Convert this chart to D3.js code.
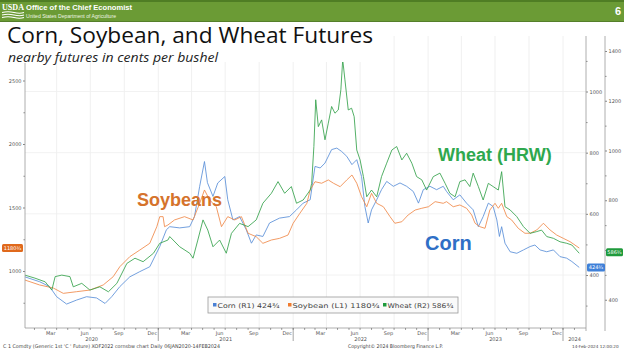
<!DOCTYPE html>
<html><head><meta charset="utf-8">
<script src="https://cdn.jsdelivr.net/npm/d3@7"></script>
<style>body{margin:0;background:#fff;overflow:hidden}svg{display:block}</style>
</head><body>
<svg id="c" width="624" height="352"></svg>
<script>
// ---------------- DATA (cents per bushel, nearby futures) ----------------
const corn = [["2020-01-06",394],["2020-02-15",378],["2020-03-13",362],["2020-04-01",329],["2020-04-28",305],["2020-05-25",318],["2020-06-21",329],["2020-07-18",325],["2020-08-10",307],["2020-08-28",329],["2020-09-19",362],["2020-10-16",394],["2020-11-12",411],["2020-12-09",427],["2021-01-05",493],["2021-01-23",548],["2021-02-01",558],["2021-02-28",554],["2021-03-27",558],["2021-04-09",591],["2021-04-23",690],["2021-05-06",771],["2021-05-14",702],["2021-05-29",657],["2021-06-11",701],["2021-06-30",722],["2021-07-08",646],["2021-07-22",580],["2021-08-09",591],["2021-08-27",548],["2021-09-10",504],["2021-09-23",531],["2021-10-11",526],["2021-10-29",570],["2021-11-25",586],["2021-12-22",591],["2022-01-10",613],["2022-01-28",635],["2022-02-16",646],["2022-03-01",755],["2022-03-15",750],["2022-03-28",766],["2022-04-15",810],["2022-04-29",815],["2022-05-12",804],["2022-05-26",788],["2022-06-09",761],["2022-06-22",777],["2022-07-05",722],["2022-07-14",624],["2022-07-23",570],["2022-08-01",613],["2022-08-15",646],["2022-08-28",679],["2022-09-11",706],["2022-09-29",690],["2022-10-17",701],["2022-11-04",690],["2022-11-22",673],["2022-12-06",635],["2022-12-19",679],["2023-01-06",690],["2023-01-24",679],["2023-02-11",690],["2023-02-20",673],["2023-03-10",646],["2023-03-28",662],["2023-04-15",635],["2023-05-03",613],["2023-05-17",558],["2023-05-30",591],["2023-06-13",635],["2023-06-26",624],["2023-07-06",580],["2023-07-13",526],["2023-07-19",558],["2023-07-28",504],["2023-08-11",476],["2023-08-29",471],["2023-09-16",482],["2023-10-04",493],["2023-10-17",498],["2023-10-31",482],["2023-11-18",476],["2023-12-06",482],["2023-12-24",460],["2024-01-11",455],["2024-01-25",444],["2024-02-14",424.75]];

const soybean = [["2020-01-06",929],["2020-02-15",890],["2020-03-23",866],["2020-04-19",824],["2020-05-25",837],["2020-06-30",850],["2020-08-05",890],["2020-09-01",955],["2020-09-19",1034],["2020-10-16",1113],["2020-11-12",1165],["2020-12-09",1218],["2020-12-28",1349],["2021-01-05",1428],["2021-01-14",1428],["2021-01-18",1349],["2021-01-27",1362],["2021-02-14",1402],["2021-03-13",1428],["2021-04-05",1402],["2021-04-23",1533],["2021-05-06",1638],["2021-05-20",1559],["2021-06-07",1506],["2021-06-21",1349],["2021-07-08",1428],["2021-07-27",1402],["2021-08-14",1428],["2021-09-01",1297],["2021-09-23",1270],["2021-10-11",1218],["2021-11-03",1244],["2021-11-25",1257],["2021-12-18",1283],["2022-01-01",1376],["2022-01-19",1454],["2022-02-07",1533],["2022-02-16",1638],["2022-03-01",1703],["2022-03-19",1691],["2022-04-06",1717],["2022-04-20",1691],["2022-05-08",1664],["2022-05-26",1717],["2022-06-09",1756],["2022-06-22",1691],["2022-07-05",1585],["2022-07-19",1506],["2022-08-01",1612],["2022-08-15",1533],["2022-09-02",1506],["2022-09-20",1428],["2022-10-03",1376],["2022-10-22",1388],["2022-11-08",1441],["2022-11-27",1480],["2022-12-15",1494],["2023-01-02",1506],["2023-01-20",1546],["2023-02-11",1533],["2023-02-20",1546],["2023-03-10",1506],["2023-03-28",1520],["2023-04-15",1494],["2023-04-29",1441],["2023-05-08",1376],["2023-05-21",1349],["2023-06-04",1336],["2023-06-17",1480],["2023-07-01",1533],["2023-07-10",1494],["2023-07-19",1533],["2023-08-02",1428],["2023-08-15",1402],["2023-09-02",1336],["2023-09-20",1297],["2023-10-04",1297],["2023-10-22",1323],["2023-11-09",1376],["2023-11-27",1323],["2023-12-15",1283],["2024-01-02",1257],["2024-01-20",1231],["2024-02-14",1180.75]];

const wheat = [["2020-01-06",499],["2020-02-02",487],["2020-03-01",472],["2020-03-19",439],["2020-03-28",493],["2020-04-15",499],["2020-05-07",493],["2020-05-16",452],["2020-06-08",466],["2020-06-30",439],["2020-07-27",452],["2020-08-19",432],["2020-09-11",466],["2020-10-08",546],["2020-10-30",567],["2020-11-21",553],["2020-12-19",587],["2021-01-05",627],["2021-01-27",640],["2021-02-01",654],["2021-02-28",613],["2021-03-27",587],["2021-04-05",567],["2021-04-18",640],["2021-05-02",721],["2021-05-15",680],["2021-05-29",613],["2021-06-16",640],["2021-07-04",587],["2021-07-18",667],["2021-08-09",707],["2021-09-01",694],["2021-09-23",721],["2021-10-11",788],["2021-11-03",828],["2021-11-21",875],["2021-12-09",828],["2021-12-27",855],["2022-01-10",788],["2022-01-28",801],["2022-02-16",841],["2022-02-20",868],["2022-02-26",1016],["2022-03-03",1204],["2022-03-10",1096],["2022-03-19",1123],["2022-03-28",1043],["2022-04-06",1110],["2022-04-15",1177],["2022-04-24",1150],["2022-05-03",1163],["2022-05-10",1244],["2022-05-15",1365],["2022-05-21",1284],["2022-05-30",1163],["2022-06-08",1170],["2022-06-15",1136],["2022-06-22",1002],["2022-07-01",962],["2022-07-10",895],["2022-07-19",814],["2022-08-01",841],["2022-08-15",814],["2022-08-28",895],["2022-09-11",949],["2022-09-25",1002],["2022-10-08",1016],["2022-10-22",962],["2022-11-04",989],["2022-11-18",949],["2022-12-01",895],["2022-12-15",882],["2022-12-28",841],["2023-01-15",895],["2023-02-02",909],["2023-02-16",868],["2023-03-01",828],["2023-03-15",814],["2023-03-28",875],["2023-04-11",882],["2023-04-24",855],["2023-05-03",909],["2023-05-17",855],["2023-05-30",801],["2023-06-13",868],["2023-06-26",855],["2023-07-10",841],["2023-07-19",915],["2023-07-28",774],["2023-08-11",761],["2023-08-29",734],["2023-09-16",694],["2023-10-04",667],["2023-10-22",674],["2023-11-04",680],["2023-11-18",654],["2023-12-06",647],["2023-12-24",633],["2024-01-11",627],["2024-01-25",620],["2024-02-14",586.75]];

const leftTicks = [1000, 1500, 2000, 2500];
const leftMinor = [750, 1250, 1750, 2250];
const r1Ticks = [400, 600, 800, 1000];
const r1Minor = [300, 500, 700, 900, 1100];
const r2Ticks = [400, 600, 800, 1000, 1200, 1400];
const r2Minor = [500, 700, 900, 1100, 1300];
const r2Hidden = [600]; // label covered by the last-value tag in the original
const monthLabels = ["Mar", "Jun", "Sep", "Dec"];
const legendLabels = ["Corn (R1) 424\u00BE", "Soybean (L1) 1180\u00BE", "Wheat (R2) 586\u00BE"];
const tagLabels = ["424\u00BE", "1180\u00BE", "586\u00BE"];
const lastValues = [424.75, 1180.75, 586.75];

// ---------------- CHART ----------------
const svg = d3.select("#c");
const W = 624, H = 352;
const P = {l: 25, r: 586, r2: 605, t: 36, b: 328};
const parse = d3.utcParse("%Y-%m-%d");
const x = d3.scaleUtc().domain([parse("2020-01-01"), parse("2024-01-01")]).range([23, 563]);
const yL = d3.scaleLinear().domain([1000, 2500]).range([271, 80.5]);
const yR1 = d3.scaleLinear().domain([400, 1000]).range([275, 91.5]);
const yR2 = d3.scaleLinear().domain([600, 1400]).range([250, 51]);

const colors = {corn: "#5a8fd8", soy: "#f0894a", wheat: "#36a24c"};
const AX = "DejaVu Sans, sans-serif";
const fmt = d3.format("d");

svg.append("rect").attr("width", W).attr("height", H).attr("fill", "#fff");

// gridlines
const grid = svg.append("g");
const quarters = d3.utcMonth.every(3).range(parse("2020-04-01"), parse("2024-01-02"));
grid.selectAll("line.v").data(quarters).join("line")
  .attr("x1", d => x(d)).attr("x2", d => x(d)).attr("y1", P.t).attr("y2", P.b)
  .attr("stroke", "#ececec").attr("stroke-width", 0.8);
grid.selectAll("line.h").data(r1Ticks).join("line")
  .attr("x1", P.l).attr("x2", P.r).attr("y1", d => yR1(d)).attr("y2", d => yR1(d))
  .attr("stroke", "#efefef").attr("stroke-width", 0.8);

// series
const plotG = svg.append("g");
plotG.append("clipPath").attr("id", "clip").append("rect")
  .attr("x", P.l).attr("y", P.t).attr("width", P.r - P.l).attr("height", P.b - P.t);
const series = [
  {data: corn, y: yR1, c: colors.corn},
  {data: soybean, y: yL, c: colors.soy},
  {data: wheat, y: yR2, c: colors.wheat}
];
series.forEach(s => {
  const line = d3.line().x(d => x(parse(d[0]))).y(d => s.y(d[1])).curve(d3.curveLinear);
  plotG.append("path").attr("d", line(s.data)).attr("fill", "none")
    .attr("stroke", s.c).attr("stroke-width", 0.9).attr("stroke-linejoin", "round")
    .attr("clip-path", "url(#clip)").attr("opacity", 0.95);
});

// white box behind title
svg.append("rect").attr("x", 0).attr("y", 22).attr("width", 380).attr("height", 40).attr("fill", "#fff");

// header
svg.append("rect").attr("width", W).attr("height", 22).attr("fill", "#6b9b35");
svg.append("rect").attr("width", W).attr("height", 2).attr("fill", "#4f7d24");
svg.append("rect").attr("y", 21).attr("width", W).attr("height", 1).attr("fill", "#557f2a");
svg.append("text").attr("x", 2).attr("y", 9.5).text("USDA")
  .attr("font-family", "Liberation Serif, serif").attr("font-weight", "bold").attr("font-size", 9).attr("fill", "#fff")
  .attr("textLength", 22).attr("lengthAdjust", "spacingAndGlyphs");
[12.5, 15, 17.5].forEach(yy => {
  svg.append("path").attr("d", `M2,${yy} Q8,${yy - 1.5} 14,${yy} T24,${yy}`)
    .attr("fill", "none").attr("stroke", "#fff").attr("stroke-width", 1.1);
});
svg.append("text").attr("x", 26).attr("y", 9.5).text("Office of the Chief Economist")
  .attr("font-family", "Liberation Sans, Arial, sans-serif").attr("font-weight", "bold").attr("font-size", 8).attr("fill", "#fff")
  .attr("textLength", 106).attr("lengthAdjust", "spacingAndGlyphs");
svg.append("text").attr("x", 26).attr("y", 18).text("United States Department of Agriculture")
  .attr("font-family", "Liberation Sans, Arial, sans-serif").attr("font-size", 5).attr("fill", "#eef5e4")
  .attr("textLength", 90).attr("lengthAdjust", "spacingAndGlyphs");
svg.append("text").attr("x", 618).attr("y", 15).attr("text-anchor", "middle").text("6")
  .attr("font-family", "Liberation Sans, Arial, sans-serif").attr("font-weight", "bold").attr("font-size", 11).attr("fill", "#fff");

// title
svg.append("text").attr("x", 7).attr("y", 42.5).text("Corn, Soybean, and Wheat Futures")
  .attr("font-family", "Open Sans, sans-serif").attr("font-size", 22.5).attr("fill", "#111")
  .attr("textLength", 366).attr("lengthAdjust", "spacingAndGlyphs");
svg.append("text").attr("x", 8).attr("y", 62).text("nearby futures in cents per bushel")
  .attr("font-family", "Open Sans, sans-serif").attr("font-style", "italic").attr("font-size", 12).attr("fill", "#222")
  .attr("textLength", 210).attr("lengthAdjust", "spacingAndGlyphs");

// axes
function styleAxis(g) {
  g.select(".domain").remove();
  g.selectAll("text").attr("font-family", AX).attr("font-size", 5).attr("fill", "#555");
  g.selectAll("line").attr("stroke", "#333").attr("stroke-width", 0.6);
}
svg.append("g").attr("transform", `translate(${P.l},0)`)
  .call(d3.axisLeft(yL).tickValues(leftTicks).tickFormat(fmt).tickSize(2).tickPadding(1.5)).call(styleAxis);
svg.append("g").attr("transform", `translate(${P.l},0)`)
  .call(d3.axisLeft(yL).tickValues(leftMinor).tickSize(1.5).tickFormat("")).call(styleAxis);
svg.append("line").attr("x1", P.l).attr("x2", P.l).attr("y1", 63).attr("y2", P.b).attr("stroke", "#999").attr("stroke-width", 0.8);

svg.append("g").attr("transform", `translate(${P.r},0)`)
  .call(d3.axisRight(yR1).tickValues(r1Ticks).tickFormat(fmt).tickSize(2).tickPadding(1.5)).call(styleAxis);
svg.append("g").attr("transform", `translate(${P.r},0)`)
  .call(d3.axisRight(yR1).tickValues(r1Minor).tickSize(1.5).tickFormat("")).call(styleAxis);
svg.append("line").attr("x1", P.r).attr("x2", P.r).attr("y1", P.t).attr("y2", 331).attr("stroke", "#999").attr("stroke-width", 0.8);

svg.append("g").attr("transform", `translate(${P.r2},0)`)
  .call(d3.axisRight(yR2).tickValues(r2Ticks).tickFormat(d => r2Hidden.includes(d) ? "" : fmt(d)).tickSize(2).tickPadding(1.5)).call(styleAxis);
svg.append("g").attr("transform", `translate(${P.r2},0)`)
  .call(d3.axisRight(yR2).tickValues(r2Minor).tickSize(1.5).tickFormat("")).call(styleAxis);
svg.append("line").attr("x1", P.r2).attr("x2", P.r2).attr("y1", P.t).attr("y2", 331).attr("stroke", "#999").attr("stroke-width", 0.8);

// bottom axis
svg.append("line").attr("x1", P.l).attr("x2", P.r).attr("y1", P.b).attr("y2", P.b).attr("stroke", "#999").attr("stroke-width", 0.8);
const months = d3.utcMonth.range(parse("2020-02-01"), parse("2024-02-15"));
svg.append("g").selectAll("line").data(months).join("line")
  .attr("x1", d => x(d)).attr("x2", d => x(d)).attr("y1", P.b).attr("y2", P.b + 2)
  .attr("stroke", "#444").attr("stroke-width", 0.5);
const labMonths = months.filter(d => monthLabels.includes(d3.utcFormat("%b")(d)));
svg.append("g").selectAll("text").data(labMonths).join("text")
  .attr("x", d => x(d3.utcDay.offset(d, 15))).attr("y", 335).attr("text-anchor", "middle")
  .text(d => d3.utcFormat("%b")(d)).attr("font-family", AX).attr("font-size", 5).attr("fill", "#555");
const yearStarts = d3.utcYear.range(parse("2021-01-01"), parse("2024-01-02"));
svg.append("g").selectAll("line").data(yearStarts).join("line")
  .attr("x1", d => x(d)).attr("x2", d => x(d)).attr("y1", P.b).attr("y2", 341)
  .attr("stroke", "#666").attr("stroke-width", 0.6);
const yearList = [2020, 2021, 2022, 2023, 2024];
svg.append("g").selectAll("text").data(yearList).join("text")
  .attr("x", d => {
    const a = Math.max(P.l, x(parse(d + "-01-01")));
    const b = Math.min(P.r, x(parse((d + 1) + "-01-01")));
    return (a + b) / 2;
  }).attr("y", 340.5).attr("text-anchor", "middle").text(d => d)
  .attr("font-family", AX).attr("font-size", 5).attr("fill", "#555");

// footer
svg.append("text").attr("x", 3).attr("y", 348).text("C 1 Comdty (Generic 1st 'C ' Future) XOF2022 cornsbw chart  Daily 06JAN2020-14FEB2024")
  .attr("font-family", AX).attr("font-size", 5).attr("fill", "#444").attr("textLength", 217).attr("lengthAdjust", "spacingAndGlyphs");
svg.append("text").attr("x", 348).attr("y", 348).text("Copyright\u00A9 2024 Bloomberg Finance L.P.")
  .attr("font-family", AX).attr("font-size", 5).attr("fill", "#444").attr("textLength", 95).attr("lengthAdjust", "spacingAndGlyphs");
svg.append("text").attr("x", 572).attr("y", 348).text("14-Feb-2024 12:00:20")
  .attr("font-family", AX).attr("font-size", 4.2).attr("fill", "#444");

// legend
const lg = svg.append("g");
lg.append("rect").attr("x", 208).attr("y", 297).attr("width", 250).attr("height", 16)
  .attr("fill", "#fafafa").attr("stroke", "#9a9a9a").attr("stroke-width", 0.8);
const legendX = [213, 288, 383];
const legendW = [62, 87, 66];
const legendC = ["#4a80d4", "#f07b2e", "#1e9a3b"];
legendLabels.forEach((t, i) => {
  lg.append("rect").attr("x", legendX[i]).attr("y", 303).attr("width", 3.5).attr("height", 3.5).attr("fill", legendC[i]);
  lg.append("text").attr("x", legendX[i] + 4.5).attr("y", 307.5).text(t)
    .attr("font-family", AX).attr("font-size", 6.5).attr("fill", "#444")
    .attr("textLength", legendW[i]).attr("lengthAdjust", "spacingAndGlyphs");
});

// last-value tags
const tags = [
  {x: 587, w: 18, y: yR1(lastValues[0]), c: "#3f80d8"},
  {x: 2, w: 21, y: yL(lastValues[1]), c: "#e0691c"},
  {x: 606, w: 17, y: yR2(lastValues[2]) - 1, c: "#1f9a3c"}
];
tags.forEach((t, i) => {
  svg.append("rect").attr("x", t.x).attr("y", t.y - 4).attr("width", t.w).attr("height", 8).attr("rx", 1.5).attr("fill", t.c);
  svg.append("text").attr("x", t.x + t.w / 2).attr("y", t.y + 1.8).attr("text-anchor", "middle").text(tagLabels[i])
    .attr("font-family", AX).attr("font-size", 5).attr("fill", "#fff");
});

// annotations
const AF = "Liberation Sans, Arial, sans-serif";
svg.append("text").attr("x", 137).attr("y", 206).text("Soybeans")
  .attr("font-family", AF).attr("font-weight", "bold").attr("font-size", 18).attr("fill", "#d5732c");
svg.append("text").attr("x", 438).attr("y", 161).text("Wheat (HRW)")
  .attr("font-family", AF).attr("font-weight", "bold").attr("font-size", 18).attr("fill", "#2ea84e");
svg.append("text").attr("x", 425).attr("y", 250).text("Corn")
  .attr("font-family", AF).attr("font-weight", "bold").attr("font-size", 20).attr("fill", "#2f6fc6");
</script>
</body></html>
